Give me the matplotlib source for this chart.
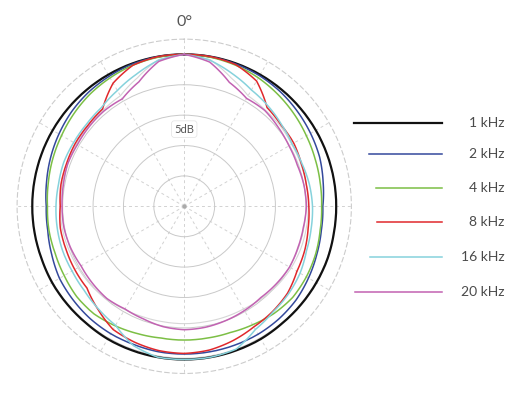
import numpy as np
import matplotlib
matplotlib.use("Agg")
import matplotlib.pyplot as plt
from matplotlib.lines import Line2D


# STEP 1 - Data (level in dB, angle clockwise from front)
angles = np.arange(0, 360, 10)

resp_1k = [0.0, 0.0, 0.0, 0.0, 0.0, 0.0, 0.0, 0.0, 0.0, 0.0, 0.0, 0.1,
           0.1, 0.1, 0.1, 0.2, 0.2, 0.2, 0.2, 0.2, 0.2, 0.2, 0.1, 0.1,
           0.1, 0.0, 0.0, 0.0, 0.0, 0.0, 0.0, 0.0, 0.0, 0.0, 0.0, 0.0]
resp_2k = [0.0, 0.0, -0.1, -0.2, -0.4, -0.7, -1.0, -1.3, -1.8, -2.2, -2.1, -1.8,
           -1.4, -1.0, -0.8, -0.7, -0.7, -0.7, -0.7, -0.7, -0.8, -0.8, -0.9, -1.1,
           -1.3, -1.8, -2.2, -2.3, -2.0, -1.6, -1.2, -0.8, -0.5, -0.3, -0.1, 0.0]
resp_4k = [0.0, -0.1, -0.3, -0.6, -1.0, -1.4, -1.8, -2.1, -2.3, -2.4, -2.3, -2.0,
           -1.8, -1.7, -2.0, -2.5, -2.9, -3.0, -3.0, -3.0, -2.7, -2.3, -1.9, -1.9,
           -2.2, -2.4, -2.4, -2.5, -2.3, -2.0, -1.7, -1.3, -0.9, -0.6, -0.3, -0.1]
resp_8k = [0.0, 0.0, -0.2, -1.2, -3.8, -4.2, -4.2, -4.5, -4.6, -4.5, -4.3, -3.9,
           -3.6, -2.8, -2.4, -2.1, -1.5, -1.0, -0.8, -0.9, -1.2, -1.6, -2.9, -4.1,
           -4.2, -4.3, -4.3, -4.6, -4.4, -4.4, -4.3, -4.3, -4.1, -1.6, -0.3, 0.0]
resp_16k = [0.0, -0.6, -1.8, -2.9, -3.5, -4.1, -4.5, -4.4, -4.1, -3.9, -3.8, -3.6,
            -3.0, -2.6, -2.3, -1.6, 0.0, 0.2, 0.2, 0.2, -0.6, -2.4, -3.0, -3.5,
            -3.7, -3.7, -3.8, -3.9, -4.0, -3.9, -4.0, -4.0, -3.8, -3.0, -1.9, -0.6]
resp_20k = [0.0, -0.9, -3.3, -4.5, -4.4, -4.8, -5.1, -5.2, -5.0, -4.9, -5.1, -5.1,
            -5.0, -5.2, -5.4, -5.2, -5.0, -4.8, -4.7, -4.9, -5.3, -5.5, -5.2, -5.3,
            -5.4, -5.1, -4.9, -4.9, -4.8, -4.6, -4.7, -4.6, -4.5, -4.6, -3.2, -0.8]
# faint grey trace visible under the coloured curves
resp_grey = [0.0, -0.5, -2.5, -4.0, -4.3, -4.4, -4.6, -4.6, -4.6, -4.6, -4.6, -4.6,
             -4.7, -4.9, -5.2, -5.5, -5.6, -5.7, -5.7, -5.7, -5.6, -5.4, -5.1, -4.9,
             -4.8, -4.7, -4.6, -4.6, -4.6, -4.6, -4.5, -4.4, -4.3, -4.0, -2.5, -0.5]

labels = ["1 kHz", "2 kHz", "4 kHz", "8 kHz", "16 kHz", "20 kHz"]
colors = ["#111111", "#34499c", "#7cbf45", "#e0282c", "#86d2dc", "#c262b2"]
widths = [1.6, 1.1, 1.1, 1.1, 1.1, 1.1]
series = [resp_1k, resp_2k, resp_4k, resp_8k, resp_16k, resp_20k]

plt.rcParams["font.family"] = ["Lato", "DejaVu Sans"]

# STEP 2 - Polar axes
fig = plt.figure(figsize=(5.24, 3.96), dpi=100)
ax = fig.add_axes([0.0326, 0.0568, 0.638, 0.8444], projection="polar")
ax.set_theta_zero_location("N")
ax.set_theta_direction(-1)
ax.set_rlim(-25, 2.5)

ax.set_rticks([-20, -15, -10, -5, 0])
ax.set_thetagrids(np.arange(0, 360, 30))
ax.set_xticklabels([])
ax.set_yticklabels([])
ax.tick_params(length=0)
ax.yaxis.grid(True, color="#c9c9c9", linewidth=0.7, linestyle="-")
ax.xaxis.grid(True, color="#d2d2d2", linewidth=0.7, linestyle=(0, (3, 3)))
ax.spines["polar"].set_linestyle((0, (4, 3)))
ax.spines["polar"].set_color("#cccccc")
ax.spines["polar"].set_linewidth(0.8)

# STEP 3 - Curves
th = np.deg2rad(np.append(angles, 360))

grey_line, = ax.plot(th, np.append(resp_grey, resp_grey[0]), color="#d6d6d6",
                     linewidth=0.8, zorder=2)
grey_line.get_path()._interpolation_steps = 12

for vals, c, lw in zip(series, colors, widths):
    r = np.append(vals, vals[0])
    line, = ax.plot(th, r, color=c, linewidth=lw, zorder=3)
    # let the polar transform draw arcs between the measured angles
    line.get_path()._interpolation_steps = 12

ax.plot([0], [-25], "o", color="#aaaaaa", markersize=2, zorder=4)

ax.text(0, -12.3, "5dB", ha="center", va="center", fontsize=8, color="#555555",
        zorder=5,
        bbox=dict(boxstyle="round,pad=0.25", fc="white", ec="#e2e2e2", lw=0.5))
fig.text(185 / 524, 1 - 22 / 396, "0°", ha="center", va="center",
         fontsize=11.5, color="#555555")

# STEP 4 - Legend
leg_y = [122.7, 154.0, 187.7, 222.3, 256.7, 291.7]
leg_x0 = [354.0, 368.7, 376.0, 376.7, 370.0, 355.0]
for i in range(len(labels)):
    y = 1 - leg_y[i] / 396
    fig.add_artist(Line2D([leg_x0[i] / 524, 441.7 / 524], [y, y],
                          color=colors[i], linewidth=widths[i],
                          transform=fig.transFigure))
    fig.text(504.5 / 524, y, labels[i], ha="right", va="center",
             fontsize=10, color="#4a4a4a")

fig.savefig("out.png", dpi=100)
